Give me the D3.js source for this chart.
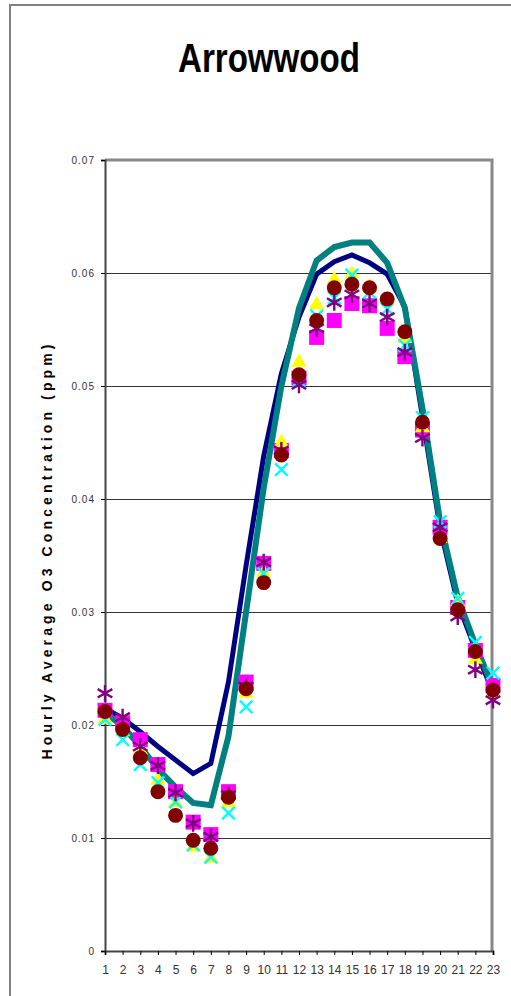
<!DOCTYPE html>
<html lang="en">
<head>
    <meta charset="UTF-8">
    <title>Arrowwood</title>
    <script src="https://cdn.jsdelivr.net/npm/d3@7/dist/d3.min.js"></script>
    <style>
        body { margin: 0; background: #fff; }
    </style>
</head>
<body>
<script type="application/javascript">

    let w = 511, h = 996;

    let hours = d3.range(1, 24);
    let yTicks = [0, 0.01, 0.02, 0.03, 0.04, 0.05, 0.06, 0.07];

    // two model lines
    let lineNavy = [0.0215, 0.0206, 0.0194, 0.0181, 0.0169, 0.0157, 0.0166, 0.0238, 0.0341, 0.0438, 0.0511, 0.0561,
        0.0599, 0.0610, 0.0616, 0.0609, 0.0599, 0.0570, 0.0473, 0.0374, 0.0308, 0.0267, 0.0229];
    let lineTeal = [0.0211, 0.0199, 0.0181, 0.0161, 0.0145, 0.0131, 0.0129, 0.0190, 0.0300, 0.0410, 0.0500, 0.0569,
        0.0611, 0.0623, 0.0627, 0.0627, 0.0609, 0.0569, 0.0480, 0.0380, 0.0313, 0.0271, 0.0233];

    // observed series (markers)
    let yellowTri = [0.0205, 0.0194, 0.0178, 0.0151, 0.0131, 0.0092, 0.0082, 0.0131, 0.0228, 0.0335, 0.0450, 0.0521,
        0.0572, 0.0594, 0.0599, 0.0588, 0.0576, 0.0542, 0.0463, 0.0365, 0.0309, 0.0258, 0.0228];
    let magentaSq = [0.0213, 0.0202, 0.0187, 0.0165, 0.0141, 0.0114, 0.0103, 0.0141, 0.0238, 0.0343, 0.0443, 0.0507,
        0.0543, 0.0558, 0.0573, 0.0571, 0.0551, 0.0526, 0.0461, 0.0375, 0.0304, 0.0266, 0.0235];
    let cyanX = [0.0205, 0.0187, 0.0165, 0.0149, 0.0132, 0.0094, 0.0083, 0.0122, 0.0216, 0.0334, 0.0426, 0.0505,
        0.0562, 0.0578, 0.0598, 0.0583, 0.0568, 0.0536, 0.0472, 0.0380, 0.0312, 0.0273, 0.0246];
    let purpleStar = [0.0228, 0.0207, 0.0181, 0.0164, 0.0140, 0.0113, 0.0101, 0.0138, 0.0234, 0.0344, 0.0443, 0.0501,
        0.0551, 0.0574, 0.0581, 0.0573, 0.0561, 0.0530, 0.0454, 0.0375, 0.0296, 0.0249, 0.0222];
    let maroonDot = [0.0212, 0.0196, 0.0171, 0.0141, 0.0120, 0.0098, 0.0091, 0.0136, 0.0232, 0.0326, 0.0439, 0.0510,
        0.0558, 0.0587, 0.0590, 0.0587, 0.0577, 0.0548, 0.0468, 0.0365, 0.0302, 0.0265, 0.0231];

    let plotLeft = 105, plotRight = 493, plotTop = 160, plotBottom = 951;

    let xScale = d3.scalePoint()
        .domain(hours)
        .range([plotLeft, plotRight]);

    let yScale = d3.scaleLinear()
        .domain([0, 0.07])
        .range([plotBottom, plotTop]);

    let svg = d3.select("body")
        .append("svg")
        .attr("width", w)
        .attr("height", h)
        .style("display", "block")
        .style("font-family", "Liberation Sans, Arial, sans-serif");

    // outer chart frame
    svg.append("path")
        .attr("d", "M10," + h + "V5H" + w)
        .attr("fill", "none")
        .attr("stroke", "#808080")
        .attr("stroke-width", 2);

    svg.append("text")
        .attr("x", 269)
        .attr("y", 72)
        .attr("text-anchor", "middle")
        .attr("font-size", 40)
        .attr("font-weight", "bold")
        .attr("textLength", 182)
        .attr("lengthAdjust", "spacingAndGlyphs")
        .text("Arrowwood");

    // gridlines
    svg.append("g")
        .attr("transform", "translate(" + plotLeft + ",0)")
        .call(d3.axisLeft(yScale).tickValues(yTicks.slice(1, 7)).tickSize(-(plotRight - plotLeft)).tickFormat(""))
        .call(function(g) { g.select(".domain").remove(); })
        .selectAll("line")
        .attr("stroke", "#333");

    // plot area border top/right
    svg.append("path")
        .attr("d", "M" + plotLeft + "," + plotTop + "H" + (plotRight - 1) + "V" + plotBottom)
        .attr("fill", "none")
        .attr("stroke", "#888")
        .attr("stroke-width", 3);

    let yAxis = svg.append("g")
        .attr("transform", "translate(" + plotLeft + ",0)")
        .call(d3.axisLeft(yScale).tickValues(yTicks).tickSize(4).tickPadding(6)
            .tickFormat(function(d) { return d === 0 ? "0" : d.toFixed(2); }));
    yAxis.select(".domain").attr("stroke", "#444").attr("stroke-width", 2);
    yAxis.selectAll("text").attr("font-size", 10).attr("fill", "#333")
        .attr("font-family", "Liberation Sans, Arial, sans-serif")
        .attr("letter-spacing", 1);

    let xAxis = svg.append("g")
        .attr("transform", "translate(0," + plotBottom + ")")
        .call(d3.axisBottom(xScale).tickSize(4).tickPadding(10));
    xAxis.select(".domain").attr("stroke", "#444").attr("stroke-width", 2);
    xAxis.selectAll("text").attr("font-size", 12).attr("fill", "#333")
        .attr("font-family", "Liberation Sans, Arial, sans-serif");

    svg.append("text")
        .attr("transform", "translate(52,552) rotate(-90)")
        .attr("text-anchor", "middle")
        .attr("font-size", 14)
        .attr("font-weight", "bold")
        .attr("textLength", 415)
        .attr("lengthAdjust", "spacing")
        .text("Hourly Average O3 Concentration (ppm)");

    let line = d3.line()
        .x(function(d, i) { return xScale(hours[i]); })
        .y(function(d) { return yScale(d); });

    svg.append("path")
        .attr("d", line(lineNavy))
        .attr("fill", "none")
        .attr("stroke", "#000080")
        .attr("stroke-width", 5);

    svg.append("path")
        .attr("d", line(lineTeal))
        .attr("fill", "none")
        .attr("stroke", "#008080")
        .attr("stroke-width", 6);

    let series = [
        { values: magentaSq, type: d3.symbolSquare, size: 225, fill: "#ff00ff", stroke: "none" },
        { values: yellowTri, type: d3.symbolTriangle, size: 100, fill: "#ffff00", stroke: "none" },
        { values: cyanX, type: d3.symbolX, size: 105, fill: "none", stroke: "#00ffff" },
        { values: purpleStar, type: d3.symbolAsterisk, size: 200, fill: "none", stroke: "#800080" },
        { values: maroonDot, type: d3.symbolCircle, size: 175, fill: "#800000", stroke: "none" }
    ];

    series.forEach(function(s) {
        svg.append("g")
            .selectAll("path")
            .data(s.values)
            .enter()
            .append("path")
            .attr("transform", function(d, i) {
                return "translate(" + xScale(hours[i]) + "," + yScale(d) + ")";
            })
            .attr("d", d3.symbol().type(s.type).size(s.size))
            .attr("fill", s.fill)
            .attr("stroke", s.stroke)
            .attr("stroke-width", 2.4);
    });

</script>
</body>
</html>
